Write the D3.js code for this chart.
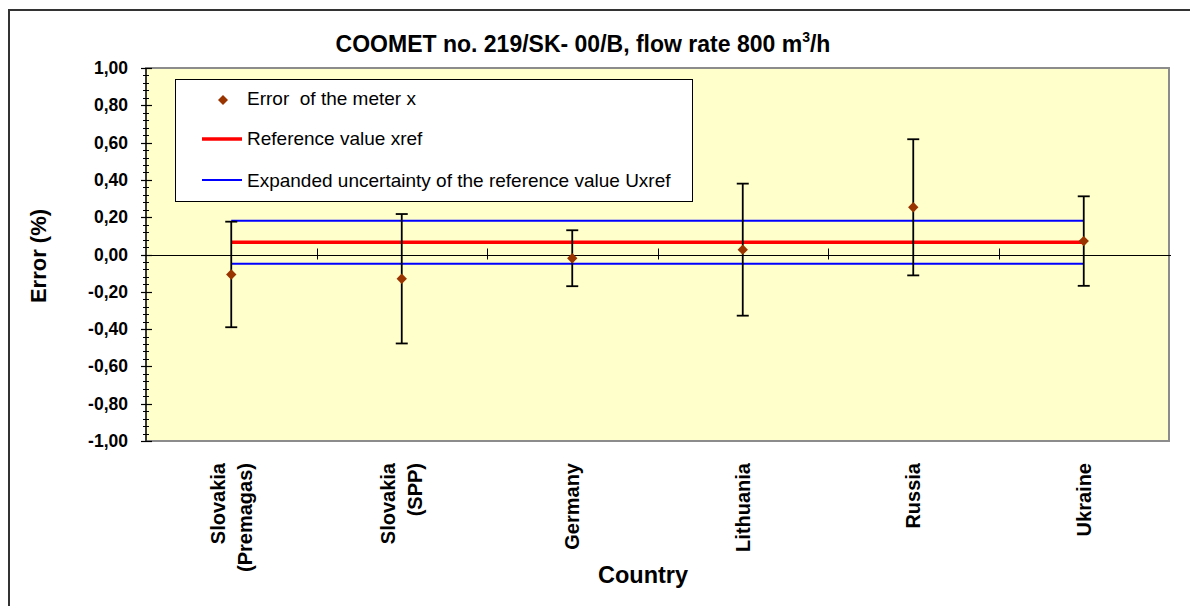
<!DOCTYPE html>
<html>
<head>
<meta charset="utf-8">
<script src="https://cdn.jsdelivr.net/npm/d3@7"></script>
<style>
  html, body { margin: 0; padding: 0; background: #ffffff; }
  svg { display: block; font-family: "Liberation Sans", Arial, sans-serif; }
</style>
</head>
<body>
<svg id="chart" width="1190" height="606"></svg>
<script>
// ---- data ----
const categories = ["Slovakia (Premagas)", "Slovakia (SPP)", "Germany", "Lithuania", "Russia", "Ukraine"];
const categoryLines = [["Slovakia", "(Premagas)"], ["Slovakia", "(SPP)"], ["Germany"], ["Lithuania"], ["Russia"], ["Ukraine"]];
const meterError = [-0.107, -0.130, -0.020, 0.026, 0.253, 0.072];
const meterUncertainty = [0.283, 0.347, 0.150, 0.354, 0.365, 0.240];
const referenceValue = 0.066;
const referenceUncertainty = 0.115;
const yTickValues = [-1.0, -0.8, -0.6, -0.4, -0.2, 0.0, 0.2, 0.4, 0.6, 0.8, 1.0];
const titleText = "COOMET no. 219/SK- 00/B, flow rate 800 m";
const legendLabels = ["Error  of the meter x", "Reference value xref", "Expanded uncertainty of the reference value Uxref"];

// ---- layout ----
const svg = d3.select("#chart");
const plot = { left: 146, right: 1169, top: 68, bottom: 441 };

const x = d3.scaleBand().domain(categories).range([plot.left, plot.right]).padding(0);
const y = d3.scaleLinear().domain([-1, 1]).range([plot.bottom, plot.top]);
const loc = d3.formatLocale({ decimal: ",", thousands: ".", grouping: [3], currency: ["", ""], minus: "-" });
const fmt = loc.format(".2f");
const cx = d => x(d) + x.bandwidth() / 2;

// outer chart border (left/top visible)
svg.append("rect").attr("x", 9).attr("y", 10).attr("width", 1200).attr("height", 620)
  .attr("fill", "#ffffff").attr("stroke", "#333333").attr("stroke-width", 2);

// plot area
svg.append("rect").attr("x", plot.left).attr("y", plot.top)
  .attr("width", plot.right - plot.left).attr("height", plot.bottom - plot.top)
  .attr("fill", "#FFFFCC").attr("stroke", "#8c8c8c").attr("stroke-width", 2);

// title
const title = svg.append("text").attr("x", 583).attr("y", 52).attr("text-anchor", "middle")
  .attr("font-size", 23).attr("font-weight", "bold").attr("fill", "#000");
title.append("tspan").text(titleText);
title.append("tspan").attr("font-size", 14).attr("dy", -10).text("3");
title.append("tspan").attr("dy", 10).text("/h");

// y axis
const gy = svg.append("g");
gy.append("line").attr("x1", plot.left).attr("x2", plot.left).attr("y1", plot.top).attr("y2", plot.bottom)
  .attr("stroke", "#000").attr("stroke-width", 1.2);
const minorTicks = d3.range(-25, 26).map(i => i * 0.04);
gy.selectAll("line.minor").data(minorTicks).join("line").attr("class", "minor")
  .attr("x1", plot.left - 3).attr("x2", plot.left + 3)
  .attr("y1", d => Math.round(y(d)) + 0.5).attr("y2", d => Math.round(y(d)) + 0.5)
  .attr("stroke", "#000").attr("stroke-width", 1);
gy.selectAll("line.major").data(yTickValues).join("line").attr("class", "major")
  .attr("x1", plot.left - 5).attr("x2", plot.left + 6)
  .attr("y1", d => Math.round(y(d)) + 0.5).attr("y2", d => Math.round(y(d)) + 0.5)
  .attr("stroke", "#000").attr("stroke-width", 1.2);
gy.selectAll("text").data(yTickValues).join("text")
  .attr("x", 128).attr("y", d => y(d) + 6).attr("text-anchor", "end")
  .attr("font-size", 17.5).attr("font-weight", "bold").attr("fill", "#000")
  .text(d => fmt(d));

svg.append("text").attr("transform", `translate(46,256) rotate(-90)`).attr("text-anchor", "middle")
  .attr("font-size", 22).attr("font-weight", "bold").text("Error (%)");

// x axis along zero
const gx = svg.append("g");
gx.append("line").attr("x1", plot.left).attr("x2", plot.right + 2).attr("y1", Math.round(y(0)) + 0.5).attr("y2", Math.round(y(0)) + 0.5)
  .attr("stroke", "#000").attr("stroke-width", 1);
const boundaries = categories.map(c => x(c) + x.bandwidth()).slice(0, categories.length - 1);
gx.selectAll("line.tick").data(boundaries).join("line").attr("class", "tick")
  .attr("x1", d => Math.round(d) + 0.5).attr("x2", d => Math.round(d) + 0.5)
  .attr("y1", y(0) - 6).attr("y2", y(0) + 5)
  .attr("stroke", "#000").attr("stroke-width", 1);

// category labels
categories.forEach((c, i) => {
  const lines = categoryLines[i];
  const lh = 27;
  const g = svg.append("text").attr("transform", `translate(${cx(c)},463) rotate(-90)`)
    .attr("text-anchor", "end").attr("font-size", 20).attr("font-weight", "bold").attr("fill", "#000");
  lines.forEach((t, j) => {
    const off = -((lines.length - 1) * lh) / 2 + j * lh + 7;
    g.append("tspan").attr("x", 0).attr("y", off).text(t);
  });
});

svg.append("text").attr("x", 643).attr("y", 583).attr("text-anchor", "middle")
  .attr("font-size", 23.5).attr("font-weight", "bold").text("Country");

// reference lines
const x0 = cx(categories[0]), x1 = cx(categories[categories.length - 1]);
const refLines = [
  { v: referenceValue + referenceUncertainty, color: "#0000FF", w: 2 },
  { v: referenceValue - referenceUncertainty, color: "#0000FF", w: 2 },
  { v: referenceValue, color: "#FF0000", w: 3.5 }
];
svg.selectAll("line.ref").data(refLines).join("line").attr("class", "ref")
  .attr("x1", x0).attr("x2", x1).attr("y1", d => y(d.v)).attr("y2", d => y(d.v))
  .attr("stroke", d => d.color).attr("stroke-width", d => d.w);

// error bars
const pts = categories.map((c, i) => ({ c, v: meterError[i], u: meterUncertainty[i] }));
const eb = svg.append("g").attr("stroke", "#000").attr("stroke-width", 1.8);
eb.selectAll("line.v").data(pts).join("line").attr("class", "v")
  .attr("x1", d => cx(d.c)).attr("x2", d => cx(d.c)).attr("y1", d => y(d.v + d.u)).attr("y2", d => y(d.v - d.u));
eb.selectAll("line.t").data(pts).join("line").attr("class", "t")
  .attr("x1", d => cx(d.c) - 6).attr("x2", d => cx(d.c) + 6).attr("y1", d => y(d.v + d.u)).attr("y2", d => y(d.v + d.u));
eb.selectAll("line.b").data(pts).join("line").attr("class", "b")
  .attr("x1", d => cx(d.c) - 6).attr("x2", d => cx(d.c) + 6).attr("y1", d => y(d.v - d.u)).attr("y2", d => y(d.v - d.u));

// markers
svg.selectAll("path.pt").data(pts).join("path").attr("class", "pt")
  .attr("transform", d => `translate(${cx(d.c)},${y(d.v)}) rotate(45)`)
  .attr("d", d3.symbol().type(d3.symbolSquare).size(54))
  .attr("fill", "#993300");

// legend
const lg = svg.append("g");
lg.append("rect").attr("x", 175.5).attr("y", 79.5).attr("width", 517).attr("height", 122)
  .attr("fill", "#ffffff").attr("stroke", "#000").attr("stroke-width", 1);
lg.append("path").attr("transform", "translate(223,100) rotate(45)")
  .attr("d", d3.symbol().type(d3.symbolSquare).size(50)).attr("fill", "#993300");
lg.append("line").attr("x1", 202).attr("x2", 242).attr("y1", 139).attr("y2", 139).attr("stroke", "#FF0000").attr("stroke-width", 3.5);
lg.append("line").attr("x1", 202).attr("x2", 242).attr("y1", 180).attr("y2", 180).attr("stroke", "#0000FF").attr("stroke-width", 2);
const ly = [105, 145, 187];
legendLabels.forEach((t, i) => {
  lg.append("text").attr("x", 247).attr("y", ly[i]).attr("font-size", 19)
    .style("white-space", "pre").attr("fill", "#000").text(t);
});
</script>
</body>
</html>
